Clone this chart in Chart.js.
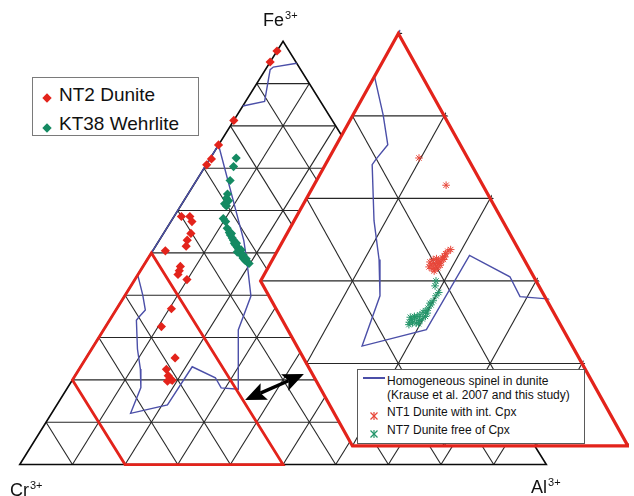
<!DOCTYPE html>
<html>
<head>
<meta charset="utf-8">
<script src="https://cdn.jsdelivr.net/npm/chart.js@4.4.1/dist/chart.umd.min.js"></script>
<style>
html,body{margin:0;padding:0;background:#fff;overflow:hidden}
#wrap{position:relative;width:634px;height:496px;font-family:"Liberation Sans",Arial,sans-serif;color:#111}
#wrap canvas{position:absolute;left:0;top:0}
.lbl{position:absolute;font-size:18px;line-height:1;white-space:nowrap}
.sup{font-size:11px;position:relative;top:-7px;margin-left:1px}
.box{position:absolute;background:#fff;border:1px solid #7a7a7a;box-sizing:border-box}
.t1{position:absolute;font-size:19px;line-height:1;white-space:nowrap}
.t2{position:absolute;font-size:12px;line-height:1;white-space:nowrap}
.mk{position:absolute}
</style>
</head>
<body>
<div id="wrap">
<canvas id="c" width="634" height="496"></canvas>
</div>
<script>
// ---------- DATA (ternary compositions in %, order: Cr3+, Al3+, Fe3+) ----------
const gridTicks = [10, 20, 30, 40, 50, 60, 70, 80, 90];
const vertexNames = ['Cr', 'Al', 'Fe'];
const vertexCharge = '3+';

const nt2Dunite = [
  [2.3,0,97.7],[4.9,0,95.1],[18.7,0,81.3],[24.5,0,75.5],[27.5,0.3,72.2],[29.1,0.1,70.8],
  [40.0,1.4,58.6],[38.4,3.0,58.6],[38.6,4.0,57.4],[40.2,5.2,54.6],[41.7,5.3,53.0],[42.6,5.8,51.6],
  [47.1,2.4,50.5],[46.1,7.1,46.8],[46.8,7.4,45.8],[47.5,7.6,44.9],[46.4,9.9,43.7],
  [52.8,10.4,36.8],[56.8,10.6,32.6],[57.9,16.9,25.2],[60.9,16.6,22.5],[61.3,17.7,21.0],
  [61.3,18.5,20.2],[62.1,18.2,19.7],[61.1,19.0,19.9]
];
const kt38Wehrlite = [
  [22.7,4.9,72.4],[24.2,5.4,70.4],[26.5,6.4,67.1],[28.6,7.5,63.9],[29.3,7.8,62.9],[29.2,8.5,62.3],
  [30.3,8.1,61.6],[30.2,8.7,61.1],[32.3,9.6,58.1],[32.2,10.4,57.4],[32.7,11.5,55.8],[32.8,12.4,54.8],
  [32.9,12.9,54.2],[32.9,13.6,53.5],[32.9,14.1,53.0],[33.1,14.6,52.3],[33.1,15.0,51.9],[33.0,15.6,51.4],
  [33.0,16.0,51.0],[33.1,16.5,50.4],[33.1,16.9,50.0],[33.1,17.2,49.7],[33.1,17.6,49.3],[33.2,18.0,48.8],
  [33.1,18.3,48.6],[33.1,18.7,48.2],[32.9,19.2,47.9],[32.7,19.8,47.5],[32.5,12.9,54.6],[32.7,15.0,52.3],
  [32.6,16.7,50.7],[33.6,16.2,50.2],[32.8,17.7,49.5],[32.7,18.7,48.6]
];
const nt1Dunite = [
  [55.3,9.8,34.9],[54.0,14.4,31.6],
  [60.4,17.3,22.3],[59.9,17.5,22.6],[59.5,17.8,22.7],[59.4,18.1,22.5],[60.1,17.8,22.1],[60.5,17.6,21.9],
  [60.0,18.2,21.8],[59.5,18.4,22.1],[59.2,18.5,22.3],[60.6,17.9,21.5],[60.3,18.3,21.4],[59.9,18.5,21.6],
  [58.8,18.4,22.8],[58.5,18.5,23.0],[58.2,18.5,23.3],[57.8,18.6,23.6],[57.4,18.8,23.8],[60.8,17.5,21.7],
  [59.7,18.1,22.2],[59.5,18.6,21.9],[60.5,18.3,21.2],[58.8,18.6,22.6],[58.5,18.6,22.9]
];
const nt7Dunite = [
  [60.9,19.1,20.0],[61.3,19.3,19.4],[61.3,20.1,18.6],[61.8,20.0,18.2],[62.4,20.0,17.6],[62.9,20.0,17.1],
  [63.4,19.9,16.7],[63.8,19.8,16.4],[64.2,19.6,16.2],[64.7,19.4,15.9],[65.1,19.2,15.7],[65.5,19.0,15.5],
  [65.9,18.8,15.3],[66.3,18.7,15.0],[66.0,19.1,14.9],[65.6,19.5,14.9],[65.1,19.7,15.2],[64.7,19.9,15.4],
  [64.2,20.1,15.7],[65.4,18.9,15.7],[65.9,18.5,15.6],[65.4,19.8,14.8],[66.5,18.8,14.7],[62.9,19.8,17.3],
  [63.8,20.1,16.1]
];
// Homogeneous spinel in dunite (Krause et al. 2007) field outline
const spinelField = [
  [24.5,0,75.5],[50,0,50],[55.2,0,44.8],[56.6,3.3,40.1],[57.9,5.6,36.5],[60.0,5.2,34.8],[60.8,5.1,34.1],
  [64.0,8.7,27.3],[65.8,11.6,22.6],[67.9,13.9,18.2],[72.9,15.0,12.1],[64.9,21.0,14.1],[55.7,21.2,23.1],
  [52.6,26.9,20.5],[52.7,29.2,18.1],[49.6,32.6,17.8],[42.6,25.6,31.8],[36.2,24.0,39.8],[32.9,19.2,47.9],
  [31.0,16.1,52.9],[24.5,0,75.5]
];
const spinelFieldApex = [[15.3,0,84.7],[10.6,3.6,85.8],[5.8,0.9,93.3],[4.9,1.2,93.9],[0,5.2,94.8]];
// Enlarged compositional window (50-80 % Cr)
const enlargedRegion = [[50,0,50],[80,0,20],[80,20,0],[50,50,0],[50,0,50],[80,0,20]];
const arrowEnds = [[49,35,16],[35,43,22]];

const legendMain = ['NT2 Dunite', 'KT38 Wehrlite'];
const legendZoom = ['Homogeneous spinel in dunite', '(Krause et al. 2007 and this study)', 'NT1 Dunite with int. Cpx', 'NT7 Dunite free of Cpx'];

// ---------- LAYOUT / STYLE ----------
const FRAMES = {
  main: {x0: 15, y0: 469, w: 535, h: 432},
  zoom: {x0: 166.4, y0: 450, w: 933, h: 842}
};
const COL = {grid:'#262626', edge:'#0a0a0a', red:'#e3231b', green:'#148a62', blue:'#4b4fa8',
             nt1:'#e8473a', nt7:'#24966a'};

function proj(f, p){
  const s = p[0]+p[1]+p[2];
  const al = p[1]/s, fe = p[2]/s;
  return {x: f.x0 + f.w*(al + fe/2), y: f.y0 - f.h*fe};
}

const seq = [];
function lineDS(pts, frame, color, width, extra){
  seq.push(Object.assign({data: pts.map(p=>proj(frame,p)), showLine:true, pointRadius:0,
    borderColor:color, borderWidth:width, fill:false, tension:0, borderJoinStyle:'miter'}, extra||{}));
}
function pointDS(label, pts, frame, style, color, r, bw, extra){
  seq.push(Object.assign({label, data: pts.map(p=>proj(frame,p)), showLine:false, pointStyle:style,
    pointRadius:r, backgroundColor:color, borderColor:color, borderWidth:bw}, extra||{}));
}
function gridLines(frame, extra){
  gridTicks.forEach(t=>{
    lineDS([[100-t,0,t],[0,100-t,t]], frame, COL.grid, 1.1, extra);
    lineDS([[100-t,t,0],[0,t,100-t]], frame, COL.grid, 1.1, extra);
    lineDS([[t,100-t,0],[t,0,100-t]], frame, COL.grid, 1.1, extra);
  });
}

// main diagram
gridLines(FRAMES.main);
lineDS([[100,0,0],[0,100,0],[0,0,100],[100,0,0],[0,100,0]], FRAMES.main, COL.edge, 1.6);
lineDS(spinelField, FRAMES.main, COL.blue, 1.4);
lineDS(spinelFieldApex, FRAMES.main, COL.blue, 1.4);
lineDS(enlargedRegion, FRAMES.main, COL.red, 2.8);
pointDS(legendMain[0], nt2Dunite, FRAMES.main, 'rectRot', COL.red, 4.6, 0);
pointDS(legendMain[1], kt38Wehrlite, FRAMES.main, 'rectRot', COL.green, 4.6, 0);
// enlarged window
lineDS(enlargedRegion, FRAMES.zoom, 'rgba(0,0,0,0)', 0, {fill:'shape', backgroundColor:'#ffffff'});
gridLines(FRAMES.zoom, {clipTo: enlargedRegion});
lineDS(spinelField, FRAMES.zoom, COL.blue, 1.4, {clipTo: enlargedRegion});
pointDS(legendZoom[2], nt1Dunite, FRAMES.zoom, 'star', COL.nt1, 3.8, 1);
pointDS(legendZoom[3], nt7Dunite, FRAMES.zoom, 'star', COL.nt7, 3.8, 1);
lineDS(enlargedRegion, FRAMES.zoom, COL.red, 3.2);

seq.forEach((d,i)=>{ d.order = seq.length - i; });

const clipPlugin = {
  id: 'ternClip',
  beforeDatasetDraw(chart, args){
    const ds = chart.data.datasets[args.index];
    if(!ds.clipTo) return;
    const ctx = chart.ctx;
    ctx.save(); ctx.beginPath();
    ds.clipTo.forEach((p,i)=>{ const q = proj(FRAMES.zoom,p); i ? ctx.lineTo(q.x,q.y) : ctx.moveTo(q.x,q.y); });
    ctx.closePath(); ctx.clip();
  },
  afterDatasetDraw(chart, args){
    const ds = chart.data.datasets[args.index];
    if(ds.clipTo) chart.ctx.restore();
  }
};
const arrowPlugin = {
  id: 'arrow',
  afterDatasetsDraw(chart){
    const ctx = chart.ctx;
    const a = proj(FRAMES.main, arrowEnds[0]), b = proj(FRAMES.main, arrowEnds[1]);
    const dx = b.x-a.x, dy = b.y-a.y, L = Math.hypot(dx,dy), ux = dx/L, uy = dy/L;
    const hl = 21, hw = 9;
    ctx.save();
    ctx.strokeStyle = '#000'; ctx.fillStyle = '#000'; ctx.lineWidth = 3.5;
    ctx.beginPath(); ctx.moveTo(a.x+ux*hl*0.8, a.y+uy*hl*0.8); ctx.lineTo(b.x-ux*hl*0.8, b.y-uy*hl*0.8); ctx.stroke();
    function head(tip, dirx, diry){
      const bx = tip.x + dirx*hl, by = tip.y + diry*hl;
      ctx.beginPath();
      ctx.moveTo(tip.x, tip.y);
      ctx.lineTo(bx - diry*hw, by + dirx*hw);
      ctx.lineTo(tip.x + dirx*hl*0.8, tip.y + diry*hl*0.8);
      ctx.lineTo(bx + diry*hw, by - dirx*hw);
      ctx.closePath(); ctx.fill();
    }
    head(a, ux, uy); head(b, -ux, -uy);
    ctx.restore();
  }
};

new Chart(document.getElementById('c'), {
  type: 'scatter',
  data: {datasets: seq},
  options: {
    responsive: false, animation: false, devicePixelRatio: 1, events: [],
    layout: {padding: 0},
    plugins: {legend: {display: false}, tooltip: {enabled: false}},
    scales: {
      x: {type: 'linear', min: 0, max: 634, display: false},
      y: {type: 'linear', min: 0, max: 496, reverse: true, display: false}
    }
  },
  plugins: [clipPlugin, arrowPlugin]
});

// ---------- text overlays ----------
const wrap = document.getElementById('wrap');
function el(tag, cls, style, html){
  const e = document.createElement(tag); e.className = cls; e.style.cssText = style;
  if(html !== undefined) e.innerHTML = html; wrap.appendChild(e); return e;
}
// vertex labels
el('div','lbl','left:263px;top:10.5px', vertexNames[2] + '<span class="sup">' + vertexCharge + '</span>');
el('div','lbl','left:10px;top:480.5px', vertexNames[0] + '<span class="sup">' + vertexCharge + '</span>');
el('div','lbl','left:531px;top:478px', vertexNames[1] + '<span class="sup">' + vertexCharge + '</span>');

function diamondSVG(color){
  return '<svg width="10" height="10"><polygon points="5,0.3 9.7,5 5,9.7 0.3,5" fill="'+color+'"/></svg>';
}
function starSVG(color){
  return '<svg width="10" height="10"><g stroke="'+color+'" stroke-width="1.2"><line x1="1.5" y1="1.5" x2="8.5" y2="8.5"/><line x1="8.5" y1="1.5" x2="1.5" y2="8.5"/><line x1="5" y1="1" x2="5" y2="9"/></g></svg>';
}
// legend 1
el('div','box','left:32px;top:77px;width:167px;height:59px');
el('div','mk','left:42px;top:89px', diamondSVG(COL.red));
el('div','mk','left:42px;top:119px', diamondSVG(COL.green));
el('div','t1','left:59px;top:84.5px', legendMain[0]);
el('div','t1','left:59px;top:114px', legendMain[1]);
// legend 2
el('div','box','left:357px;top:369px;width:228px;height:75px;border-color:#5a5a5a');
el('div','mk','left:363px;top:377px;width:22px;height:2px;background:'+COL.blue);
el('div','t2','left:387px;top:375px', legendZoom[0]);
el('div','t2','left:387px;top:388.5px', legendZoom[1]);
el('div','mk','left:369px;top:407px', starSVG(COL.nt1));
el('div','mk','left:369px;top:425px', starSVG(COL.nt7));
el('div','t2','left:387px;top:405.5px', legendZoom[2]);
el('div','t2','left:387px;top:424px', legendZoom[3]);
</script>
</body>
</html>
